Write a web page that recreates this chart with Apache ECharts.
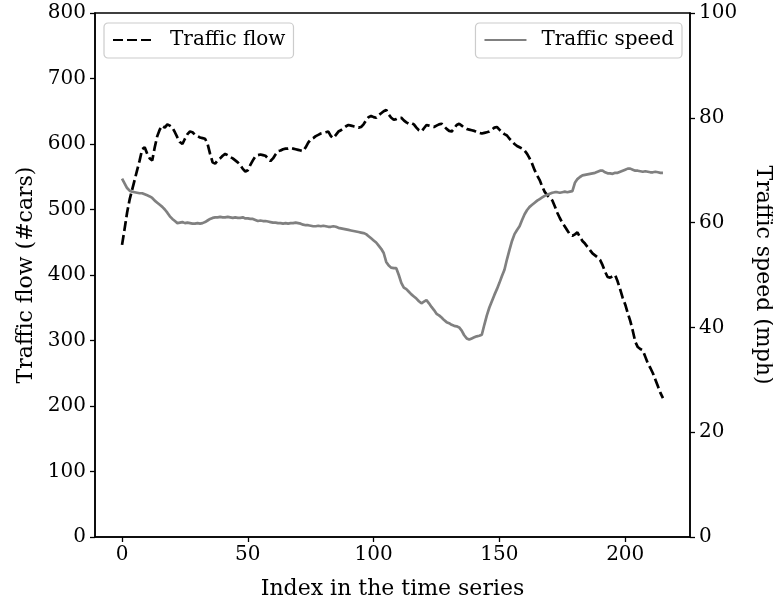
<!DOCTYPE html>
<html>
<head>
<meta charset="utf-8">
<script src="https://cdn.jsdelivr.net/npm/echarts@6/dist/echarts.min.js"></script>
<style>html,body{margin:0;padding:0;background:#fff;}#c{width:773px;height:602px;}</style>
</head>
<body>
<div id="c"></div>
<script>
const xTicks = [0, 50, 100, 150, 200];
const flowTicksMax = 800;
const speedTicksMax = 100;

const trafficFlow = [
446,470,495,515,530,545,560,575,592,595,
585,578,575,595,612,622,628,625,630,628,
625,618,610,603,600,608,615,619,618,614,
612,610,609,608,600,585,572,570,575,578,
582,585,583,580,578,575,572,568,562,558,
560,568,575,581,583,584,583,582,578,574,
578,584,589,590,592,593,593,594,593,592,
591,590,589,595,602,607,609,612,614,616,
617,618,619,612,609,614,619,621,624,627,
629,628,627,626,625,626,630,636,641,643,
641,640,644,647,650,652,645,640,637,638,
640,640,636,633,631,632,630,625,621,619,
624,629,628,627,626,628,630,631,627,623,
620,619,624,629,631,628,625,623,622,621,
620,618,617,616,617,618,619,622,625,626,
622,618,615,613,608,604,600,597,595,593,
590,585,578,570,560,552,545,535,527,522,
518,514,505,495,487,480,474,468,462,460,
462,465,458,452,448,443,438,433,430,427,
423,415,405,397,396,398,400,390,378,365,
355,342,330,315,298,290,287,285,275,265,
258,250,240,230,220,212
];

const trafficSpeed = [
68.4,67.5,66.6,66.1,65.9,65.8,65.7,65.6,65.6,65.4,
65.2,65.0,64.7,64.2,63.8,63.4,63.0,62.5,61.9,61.2,
60.7,60.3,59.9,60.0,60.1,59.9,60.0,59.9,59.8,59.8,
59.9,59.8,59.9,60.1,60.4,60.7,60.9,61.0,61.0,61.1,
61.0,61.0,61.1,61.0,60.9,61.0,60.9,60.9,61.0,60.8,
60.8,60.7,60.7,60.5,60.3,60.4,60.3,60.3,60.2,60.1,
60.0,60.0,59.9,59.9,59.8,59.9,59.8,59.9,59.9,60.0,
59.9,59.8,59.6,59.5,59.5,59.4,59.3,59.3,59.4,59.3,
59.4,59.3,59.2,59.2,59.3,59.2,59.0,58.9,58.8,58.7,
58.6,58.5,58.4,58.3,58.2,58.1,58.0,57.8,57.4,57.0,
56.6,56.2,55.6,55.0,54.2,52.5,51.8,51.4,51.3,51.3,
50.0,48.5,47.6,47.3,46.8,46.3,45.9,45.5,45.0,44.6,
44.9,45.2,44.6,43.9,43.3,42.6,42.3,41.9,41.4,41.0,
40.8,40.5,40.3,40.2,40.0,39.4,38.5,37.9,37.7,37.9,
38.1,38.3,38.4,38.6,40.5,42.3,43.8,45.0,46.2,47.3,
48.5,49.8,51.0,53.0,54.8,56.5,57.8,58.6,59.3,60.5,
61.6,62.4,63.0,63.4,63.8,64.2,64.5,64.8,65.1,65.3,
65.5,65.7,65.8,65.8,65.7,65.8,65.9,65.8,65.9,66.0,
67.6,68.3,68.7,69.0,69.1,69.2,69.3,69.4,69.5,69.7,
69.9,69.9,69.6,69.4,69.4,69.3,69.5,69.5,69.7,69.9,
70.1,70.3,70.3,70.1,69.9,69.9,69.8,69.7,69.8,69.7,
69.6,69.6,69.7,69.6,69.5,69.5
];

const FONT = 'DejaVu Serif';
const n = trafficFlow.length;
const margin = (n - 1) * 0.05;

const chart = echarts.init(document.getElementById('c'), null, {renderer: 'canvas'});
const axisText = {fontFamily: FONT, fontSize: 20, color: '#000'};
const nameText = {fontFamily: FONT, fontSize: 22, color: '#000'};
const legendCommon = {
  itemWidth: 42, itemHeight: 14, itemGap: 10,
  padding: [7, 8, 8, 8],
  borderColor: '#cccccc', borderWidth: 1.2, borderRadius: 4, backgroundColor: '#fff',
  itemStyle: {color: 'rgba(0,0,0,0)', borderColor: 'rgba(0,0,0,0)', borderWidth: 0, opacity: 0},
  textStyle: {fontFamily: FONT, fontSize: 20, color: '#000', padding: [0, 0, 0, 10]}
};
chart.setOption({
  animation: false,
  backgroundColor: '#fff',
  grid: {left: 95, right: 83, top: 13, bottom: 65, containLabel: false, outerBoundsMode: 'none',
         show: true, borderColor: '#000', borderWidth: 1.5, backgroundColor: 'transparent'},
  legend: [
    Object.assign({data: ['Traffic flow'], left: 104, top: 23}, legendCommon),
    Object.assign({data: ['Traffic speed'], right: 91, top: 23}, legendCommon)
  ],
  xAxis: {
    type: 'value', min: -margin, max: (n - 1) + margin,
    name: 'Index in the time series', nameLocation: 'middle', nameGap: 41,
    nameTextStyle: nameText,
    axisLine: {show: true, onZero: false, lineStyle: {color: '#000', width: 1.5}},
    axisTick: {show: true, length: 5, lineStyle: {color: '#000', width: 1.3}, customValues: xTicks},
    axisLabel: Object.assign({margin: 8, customValues: xTicks}, axisText),
    splitLine: {show: false}
  },
  yAxis: [
    {
      type: 'value', min: 0, max: flowTicksMax, interval: 100, position: 'left',
      name: 'Traffic flow (#cars)', nameLocation: 'middle', nameGap: 57, nameRotate: 90,
      nameTextStyle: nameText,
      axisLine: {show: true, onZero: false, lineStyle: {color: '#000', width: 1.5}},
      axisTick: {show: true, length: 5, lineStyle: {color: '#000', width: 1.3}},
      axisLabel: Object.assign({margin: 9}, axisText),
      splitLine: {show: false}
    },
    {
      type: 'value', min: 0, max: speedTicksMax, interval: 20, position: 'right',
      name: 'Traffic speed (mph)', nameLocation: 'middle', nameGap: 62, nameRotate: -90,
      nameTextStyle: nameText,
      axisLine: {show: true, onZero: false, lineStyle: {color: '#000', width: 1.5}},
      axisTick: {show: true, length: 5, lineStyle: {color: '#000', width: 1.3}},
      axisLabel: Object.assign({margin: 9}, axisText),
      splitLine: {show: false}
    }
  ],
  series: [
    {
      name: 'Traffic flow', type: 'line', yAxisIndex: 0, showSymbol: false, symbol: 'none',
      data: trafficFlow.map((v, i) => [i, v]),
      lineStyle: {color: '#000', width: 2.7, type: [10, 4]},
      itemStyle: {color: '#000'}
    },
    {
      name: 'Traffic speed', type: 'line', yAxisIndex: 1, showSymbol: false, symbol: 'none',
      data: trafficSpeed.map((v, i) => [i, v]),
      lineStyle: {color: '#808080', width: 2.7},
      itemStyle: {color: '#808080'}
    }
  ]
});
</script>
</body>
</html>
